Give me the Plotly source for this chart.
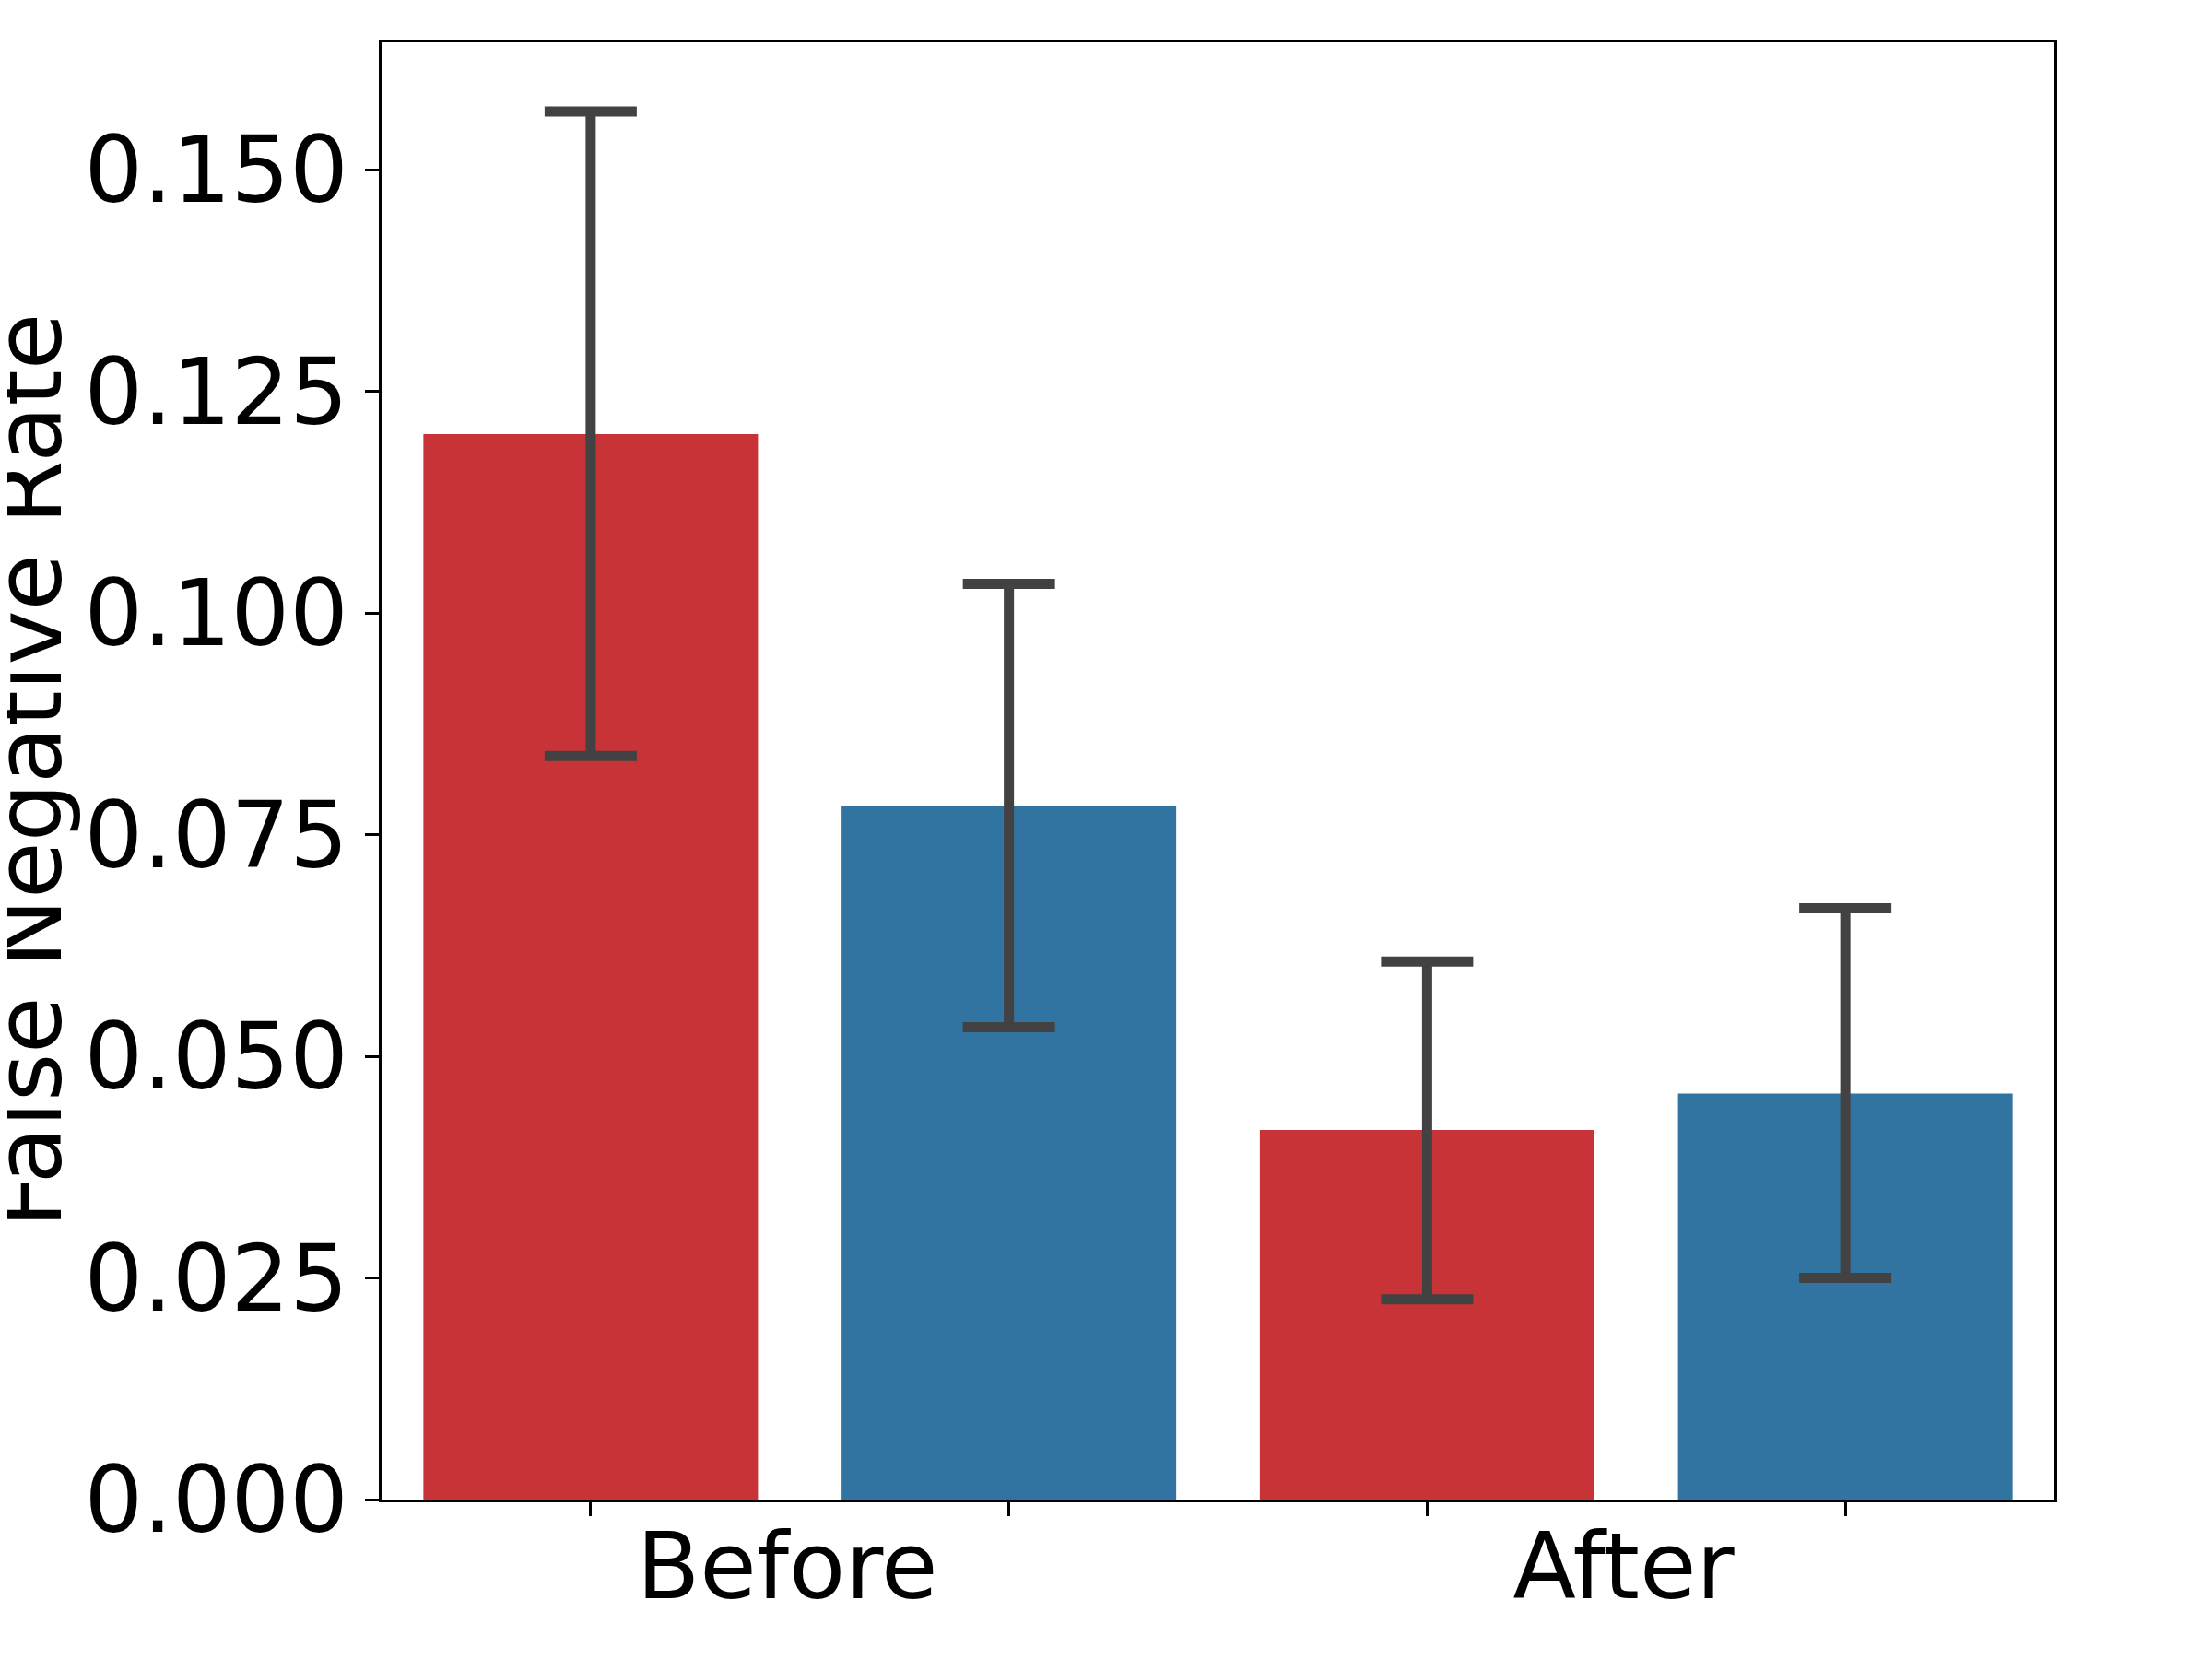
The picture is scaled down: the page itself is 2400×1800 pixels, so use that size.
import plotly.graph_objects as go

# ---- data ----
periods = ["Before", "After"]
bar_positions_red = [0, 2]
bar_positions_blue = [1, 3]
red_means = [0.1202, 0.0417]
red_low = [0.0839, 0.0226]
red_high = [0.1566, 0.0607]
blue_means = [0.0783, 0.0458]
blue_low = [0.0533, 0.0250]
blue_high = [0.1033, 0.0667]
y_ticks = [0.0, 0.025, 0.05, 0.075, 0.1, 0.125, 0.15]
period_tick_positions = [0.47, 2.47]

RED = "#c83337"
BLUE = "#3274a1"
ERR = "#424242"
FONT = "DejaVu Sans"
FS = 100

def err(means, lows, highs):
    return dict(
        type="data", symmetric=False,
        array=[h - m for m, h in zip(means, highs)],
        arrayminus=[m - l for m, l in zip(means, lows)],
        color=ERR, thickness=11, width=50,
    )

fig = go.Figure()
fig.add_trace(go.Bar(
    x=bar_positions_red, y=red_means, width=0.8,
    marker=dict(color=RED, line=dict(width=0)),
    error_y=err(red_means, red_low, red_high),
    xaxis="x", yaxis="y", showlegend=False, name="red",
))
fig.add_trace(go.Bar(
    x=bar_positions_blue, y=blue_means, width=0.8,
    marker=dict(color=BLUE, line=dict(width=0)),
    error_y=err(blue_means, blue_low, blue_high),
    xaxis="x2", yaxis="y", showlegend=False, name="blue",
))

W, H = 2400, 1800
L, T = 406, 38
PW, PH = 1815, 1581
R = W - L - PW
B = H - T - PH

fig.update_layout(
    width=W, height=H,
    margin=dict(l=L, r=R, t=T, b=B, pad=0),
    paper_bgcolor="white", plot_bgcolor="white",
    font=dict(family=FONT, size=FS, color="black"),
    showlegend=False,
    barmode="overlay",
    xaxis=dict(
        range=[-0.5, 3.5], tickvals=[0, 1, 2, 3], ticktext=["", "", "", ""],
        ticks="outside", ticklen=15, tickwidth=3.3, tickcolor="black",
        showline=True, linecolor="black", linewidth=3.3, mirror=True,
        showgrid=False, zeroline=False, fixedrange=True,
    ),
    xaxis2=dict(
        overlaying="x", anchor="y", side="bottom",
        range=[-0.5, 3.5], tickvals=period_tick_positions, ticktext=periods,
        ticks="", showline=False, showgrid=False, zeroline=False,
        tickfont=dict(family=FONT, size=FS, color="black"),
        ticklabelstandoff=6,
    ),
    yaxis=dict(
        range=[0, 0.1644], tickvals=y_ticks, tickformat=".3f",
        ticks="outside", ticklen=15, tickwidth=3.3, tickcolor="black",
        showline=True, linecolor="black", linewidth=3.3, mirror=True,
        showgrid=False, zeroline=False,
        tickfont=dict(family=FONT, size=FS, color="black"),
        ticklabelstandoff=-2,
    ),
    annotations=[dict(
        text="False Negative Rate", textangle=-90,
        xref="paper", yref="paper", x=(31 - 8 - L) / PW, y=0.5,
        xanchor="center", yanchor="middle", showarrow=False,
        font=dict(family=FONT, size=FS, color="black"),
    )],
)

fig.write_html("out.html")
